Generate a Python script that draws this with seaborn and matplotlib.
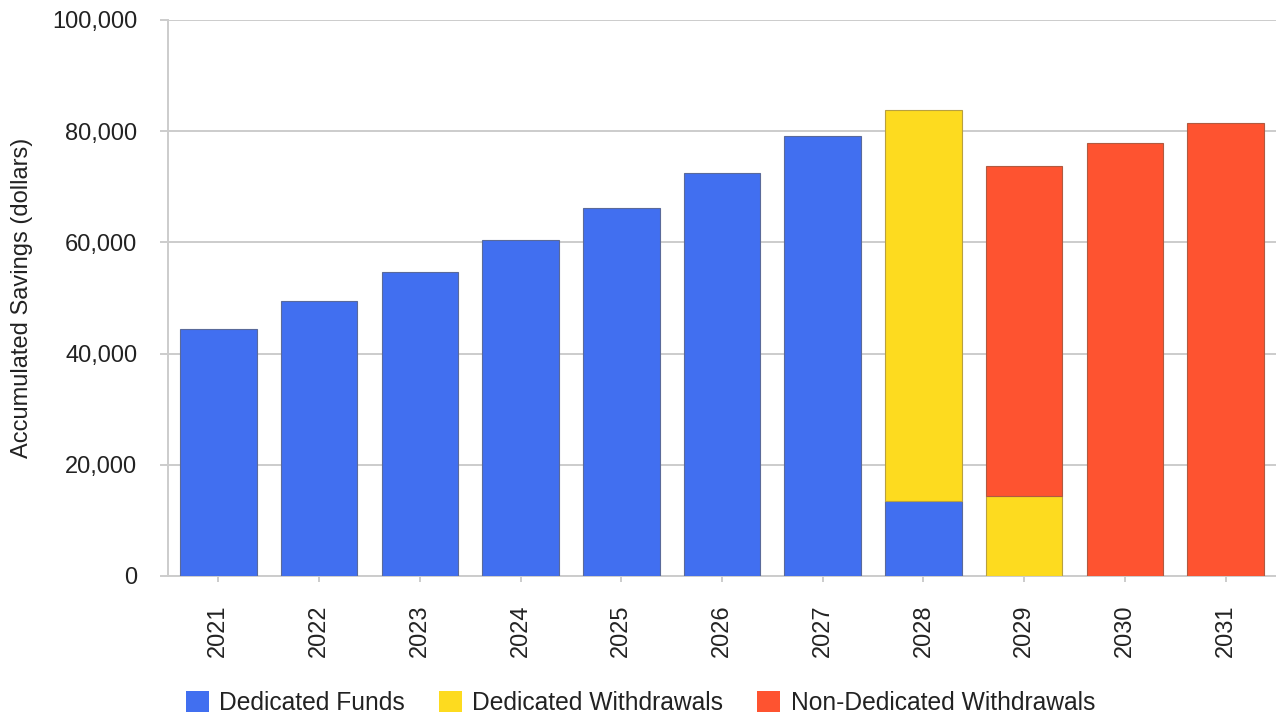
import matplotlib
matplotlib.use("Agg")
import matplotlib.pyplot as plt
from matplotlib.patches import Patch
import numpy as np
import pandas as pd
import seaborn as sns

# Accumulated savings by year, split into the three funding components (dollars)
years = ["2021", "2022", "2023", "2024", "2025", "2026",
         "2027", "2028", "2029", "2030", "2031"]
dedicated_funds = [44500, 49500, 54700, 60400, 66200, 72400,
                   79200, 13400, 0, 0, 0]
dedicated_withdrawals = [0, 0, 0, 0, 0, 0, 0, 70400, 14400, 0, 0]
non_dedicated_withdrawals = [0, 0, 0, 0, 0, 0, 0, 0, 59300, 77800, 81400]

series_names = ["Dedicated Funds", "Dedicated Withdrawals",
                "Non-Dedicated Withdrawals"]
series_colors = ["#416ff0", "#fddb1f", "#fe5330"]
edge_colors = ["#5a6a9a", "#b8a040", "#b05a40"]

df = pd.DataFrame({
    "year": years,
    series_names[0]: dedicated_funds,
    series_names[1]: dedicated_withdrawals,
    series_names[2]: non_dedicated_withdrawals,
})

sns.set_theme(style="white")
plt.rcParams["font.family"] = ["Liberation Sans", "DejaVu Sans"]
text_color = "#222222"
grid_color = "#cccccc"

fig = plt.figure(figsize=(12.76, 7.14), dpi=100)
ax = fig.add_axes([168 / 1276, 1 - 576 / 714, 1 - 168 / 1276, (576 - 20) / 714])

# Stack the series bottom-up
bottom = np.zeros(len(years))
for name, color, ec in zip(series_names, series_colors, edge_colors):
    values = df[name].to_numpy(dtype=float)
    sns.barplot(data=df, x="year", y=name, color=color, ax=ax,
                width=0.76, bottom=bottom, edgecolor=ec, linewidth=0.8,
                saturation=1, zorder=3)
    bottom = bottom + values

# Empty segments should not leave an outline on top of the stack
for patch in ax.patches:
    if patch.get_height() == 0:
        patch.set_visible(False)

ax.set_ylim(0, 100000)
ax.set_xlim(-0.5, len(years) - 0.5)
ax.set_yticks(np.arange(0, 100001, 20000))
ax.set_yticklabels([f"{v:,}" for v in range(0, 100001, 20000)])
ax.yaxis.grid(True, color=grid_color, linewidth=1.4, zorder=0)
ax.set_axisbelow(True)

for side in ["top", "right"]:
    ax.spines[side].set_visible(False)
for side in ["left", "bottom"]:
    ax.spines[side].set_color(grid_color)
    ax.spines[side].set_linewidth(1.4)

ax.tick_params(axis="y", which="both", length=6, width=1.4, color=grid_color,
               pad=16, labelsize=17, labelcolor=text_color, left=True)
ax.tick_params(axis="x", which="both", length=4.5, width=1.4, color=grid_color,
               pad=16, labelsize=17, labelcolor=text_color, bottom=True,
               labelrotation=90)

ax.set_xlabel("")
ax.set_ylabel("Accumulated Savings (dollars)", fontsize=17, color=text_color)
ax.yaxis.set_label_coords(-0.122, 0.5)

handles = [Patch(facecolor=c, edgecolor="none") for c in series_colors]
fig.legend(handles, series_names, loc="lower center",
           bbox_to_anchor=(0.502, -0.032), ncol=3, frameon=False,
           fontsize=17.7, labelcolor=text_color, handlelength=0.93,
           handleheight=0.93, handletextpad=0.43, columnspacing=1.38)

fig.savefig("out.png", dpi=100)
